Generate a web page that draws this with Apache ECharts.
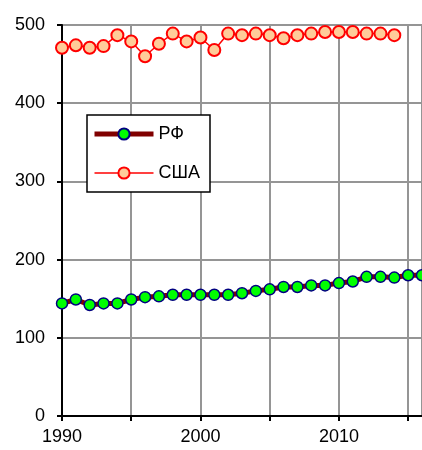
<!DOCTYPE html>
<html>
<head>
<meta charset="utf-8">
<script src="https://cdn.jsdelivr.net/npm/echarts@6/dist/echarts.min.js"></script>
<style>
  html, body { margin: 0; padding: 0; background: #fff; }
  #chart { width: 422px; height: 450px; }
</style>
</head>
<body>
<div id="chart"></div>
<script>
// years and values
var yearsRF = [1990, 1991, 1992, 1993, 1994, 1995, 1996, 1997, 1998, 1999,
  2000, 2001, 2002, 2003, 2004, 2005, 2006, 2007, 2008, 2009,
  2010, 2011, 2012, 2013, 2014, 2015, 2016];
var valuesRF = [144, 149, 142, 144, 144, 149, 152, 153, 155, 155,
  155, 155, 155, 157, 160, 162, 165, 165, 167, 167,
  170, 172, 178, 178, 177, 180, 180];

var yearsUSA = [1990, 1991, 1992, 1993, 1994, 1995, 1996, 1997, 1998, 1999,
  2000, 2001, 2002, 2003, 2004, 2005, 2006, 2007, 2008, 2009,
  2010, 2011, 2012, 2013, 2014];
var valuesUSA = [471, 474, 471, 473, 487, 479, 460, 476, 489, 479,
  484, 468, 489, 487, 489, 487, 483, 487, 489, 491,
  491, 491, 489, 489, 487];

var seriesNames = ['РФ', 'США'];

function pairs(xs, ys) {
  return xs.map(function (x, i) { return [x, ys[i]]; });
}

var myChart = echarts.init(document.getElementById('chart'));
var font = 'Liberation Sans, Arial, sans-serif';

var option = {
  animation: false,
  backgroundColor: '#fff',
  grid: { left: 62, top: 25, width: 360, height: 391, containLabel: false },
  legend: {
    data: [
      { name: seriesNames[0], lineStyle: { width: 5, color: '#800000' } },
      { name: seriesNames[1], lineStyle: { width: 1.5, color: '#ff0000' } }
    ],
    orient: 'vertical',
    left: 87,
    top: 115,
    itemWidth: 59,
    itemHeight: 14,
    itemGap: 21,
    padding: [10, 10, 10, 5],
    borderColor: '#000',
    borderWidth: 1.5,
    backgroundColor: '#fff',
    textStyle: { fontFamily: font, fontSize: 18, color: '#000' }
  },
  xAxis: {
    type: 'value',
    min: 1990,
    max: 2016,
    interval: 5,
    axisLine: { lineStyle: { color: '#000', width: 2 } },
    axisTick: { show: true, length: 5, lineStyle: { color: '#000', width: 2 } },
    axisLabel: {
      margin: 12,
      fontFamily: font, fontSize: 18, color: '#000',
      showMaxLabel: false,
      formatter: function (v) { return v % 10 === 0 ? String(v) : ''; }
    },
    splitLine: { show: true, lineStyle: { color: '#959595', width: 2 } }
  },
  yAxis: {
    type: 'value',
    min: 0,
    max: 500,
    interval: 100,
    axisLine: { show: true, lineStyle: { color: '#000', width: 2 } },
    axisTick: { show: true, length: 5, lineStyle: { color: '#000', width: 2 } },
    axisLabel: { margin: 17, fontFamily: font, fontSize: 18, color: '#000' },
    splitLine: { show: true, lineStyle: { color: '#959595', width: 2 } }
  },
  series: [
    {
      name: seriesNames[0],
      type: 'line',
      data: pairs(yearsRF, valuesRF),
      symbol: 'circle',
      symbolSize: 11,
      showAllSymbol: true,
      lineStyle: { color: '#800000', width: 5 },
      itemStyle: { color: '#00ff00', borderColor: '#000080', borderWidth: 1.5 },
      clip: false,
      z: 3
    },
    {
      name: seriesNames[1],
      type: 'line',
      data: pairs(yearsUSA, valuesUSA),
      symbol: 'circle',
      symbolSize: 12,
      showAllSymbol: true,
      lineStyle: { color: '#ff0000', width: 1.5 },
      itemStyle: { color: '#ffcc99', borderColor: '#ff0000', borderWidth: 2 },
      z: 3
    }
  ]
};
myChart.setOption(option);
</script>
</body>
</html>
